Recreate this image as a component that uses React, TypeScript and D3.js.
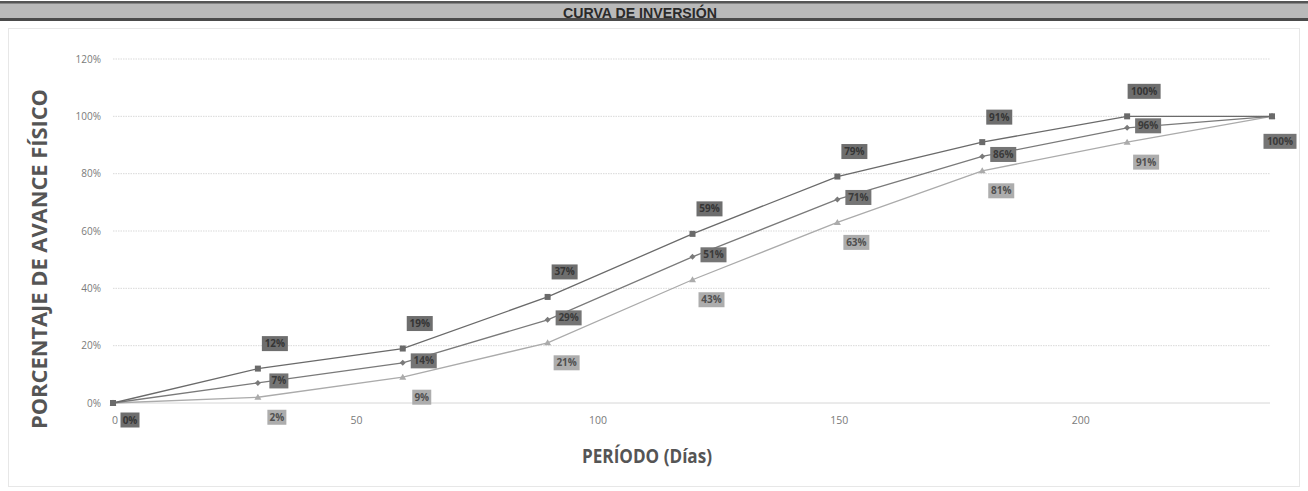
// Curva de inversión: avance físico acumulado (%) vs período en días,
// tres curvas (oscura / media / clara) con etiquetas de datos en cajas grises.
import * as d3 from "d3";

const days = [0, 30, 60, 90, 120, 150, 180, 210, 240];
const serieOscura = [0, 12, 19, 37, 59, 79, 91, 100, 100];
const serieMedia = [0, 7, 14, 29, 51, 71, 86, 96, 100];
const serieClara = [0, 2, 9, 21, 43, 63, 81, 91, 100];
const yTicks = [0, 20, 40, 60, 80, 100, 120];
const xTicks = [0, 50, 100, 150, 200];

const W = 1308;
const H = 491;
const plot = { left: 113, right: 1272, top: 59, bottom: 403 };

type Serie = {
  key: string;
  values: number[];
  line: string;
  marker: "square" | "diamond" | "triangle";
  box: string;
  text: string;
  // which points get a label, and where it sits relative to the point
  labels: { i: number; dx: number; dy: number }[];
};

const inner = [1, 2, 3, 4, 5, 6, 7];

const SERIES: Serie[] = [
  {
    key: "oscura",
    values: serieOscura,
    line: "#6a6a6a",
    marker: "square",
    box: "#6e6e6e",
    text: "#353535",
    labels: [{ i: 0, dx: 17, dy: 17 }, ...inner.map((i) => ({ i, dx: 17, dy: -25 }))],
  },
  {
    key: "media",
    values: serieMedia,
    line: "#7a7a7a",
    marker: "diamond",
    box: "#757575",
    text: "#3a3a3a",
    labels: [...inner.map((i) => ({ i, dx: 21, dy: -2 })), { i: 8, dx: 8, dy: 25 }],
  },
  {
    key: "clara",
    values: serieClara,
    line: "#ababab",
    marker: "triangle",
    box: "#adadad",
    text: "#505050",
    labels: inner.map((i) => ({ i, dx: 19, dy: 20 })),
  },
];

function Marker({ kind, x, y, color }: { kind: Serie["marker"]; x: number; y: number; color: string }) {
  if (kind === "square") return <rect x={x - 3} y={y - 3} width={6} height={6} fill={color} />;
  if (kind === "diamond")
    return <path d={`M${x},${y - 3}L${x + 3},${y}L${x},${y + 3}L${x - 3},${y}Z`} fill={color} />;
  return <path d={`M${x},${y - 3.5}L${x + 3.5},${y + 2.5}L${x - 3.5},${y + 2.5}Z`} fill={color} />;
}

export default function App() {
  const x = d3.scaleLinear().domain([0, 240]).range([plot.left, plot.right]);
  const y = d3.scaleLinear().domain([0, 120]).range([plot.bottom, plot.top]);
  const line = d3
    .line<number>()
    .x((_, i) => x(days[i]))
    .y((v) => y(v));

  const font = "'Open Sans', 'DejaVu Sans', sans-serif";

  return (
    <div style={{ position: "absolute", left: 0, top: 0 }}>
      <svg width={W} height={H} viewBox={`0 0 ${W} ${H}`} style={{ display: "block", background: "#fff" }}>
        {/* title bar */}
        <rect x={0} y={1} width={W} height={20} fill="#b9b9b9" />
        <rect x={0} y={1} width={W} height={2.5} fill="#555" />
        <rect x={0} y={18} width={W} height={3} fill="#4a4a4a" />
        <text
          x={640}
          y={18}
          textAnchor="middle"
          fontFamily="'Liberation Sans Narrow', 'Liberation Sans', sans-serif"
          fontWeight="bold"
          fontSize={15}
          fill="#2a2a2a"
          textLength={154}
          lengthAdjust="spacingAndGlyphs"
        >
          CURVA DE INVERSIÓN
        </text>

        {/* chart frame */}
        <rect x={8.5} y={28.5} width={1291} height={458} fill="none" stroke="#cfcfcf" strokeDasharray="1,1" />

        {/* gridlines */}
        {yTicks.map((t) => (
          <line
            key={t}
            x1={plot.left}
            x2={plot.right - 2}
            y1={y(t)}
            y2={y(t)}
            stroke={t === 0 ? "#d6d6d6" : "#d9d9d9"}
            strokeDasharray={t === 0 ? undefined : "1.5,1"}
          />
        ))}

        {/* y tick labels */}
        {yTicks.map((t) => (
          <text key={t} x={101} y={y(t) + 3.5} textAnchor="end" fontFamily={font} fontSize={10} fill="#7a7a7a">
            {t}%
          </text>
        ))}

        {/* x tick labels */}
        {xTicks.map((t) => (
          <text key={t} x={x(t) + 2} y={424} textAnchor="middle" fontFamily={font} fontSize={10.5} fill="#7a7a7a">
            {t}
          </text>
        ))}

        {/* axis titles */}
        <text
          transform={`translate(47,${259}) rotate(-90)`}
          textAnchor="middle"
          fontFamily={font}
          fontWeight="bold"
          fontSize={21}
          fill="#555"
          textLength={340}
          lengthAdjust="spacingAndGlyphs"
        >
          PORCENTAJE DE AVANCE FÍSICO
        </text>
        <text
          x={647}
          y={463}
          textAnchor="middle"
          fontFamily={font}
          fontWeight="bold"
          fontSize={20}
          fill="#555"
          textLength={130}
          lengthAdjust="spacingAndGlyphs"
        >
          PERÍODO (Días)
        </text>

        {/* series */}
        {SERIES.slice()
          .reverse()
          .map((s) => (
            <g key={s.key}>
              <path d={line(s.values) ?? ""} fill="none" stroke={s.line} strokeWidth={1.3} />
              {s.values.map((v, i) => (
                <Marker key={i} kind={s.marker} x={x(days[i])} y={y(v)} color={s.line} />
              ))}
            </g>
          ))}

        {/* data labels */}
        {SERIES.map((s) =>
          s.labels.map(({ i, dx, dy }) => {
            const cx = x(days[i]) + dx;
            const cy = y(s.values[i]) + dy;
            const label = `${s.values[i]}%`;
            const bw = label.length * 7 + 5;
            return (
              <g key={`${s.key}-${i}`}>
                <rect x={cx - bw / 2} y={cy - 7.5} width={bw} height={15} fill={s.box} />
                <text
                  x={cx}
                  y={cy + 3.5}
                  textAnchor="middle"
                  fontFamily={font}
                  fontWeight="bold"
                  fontSize={10}
                  fill={s.text}
                >
                  {label}
                </text>
              </g>
            );
          }),
        )}
      </svg>
    </div>
  );
}
